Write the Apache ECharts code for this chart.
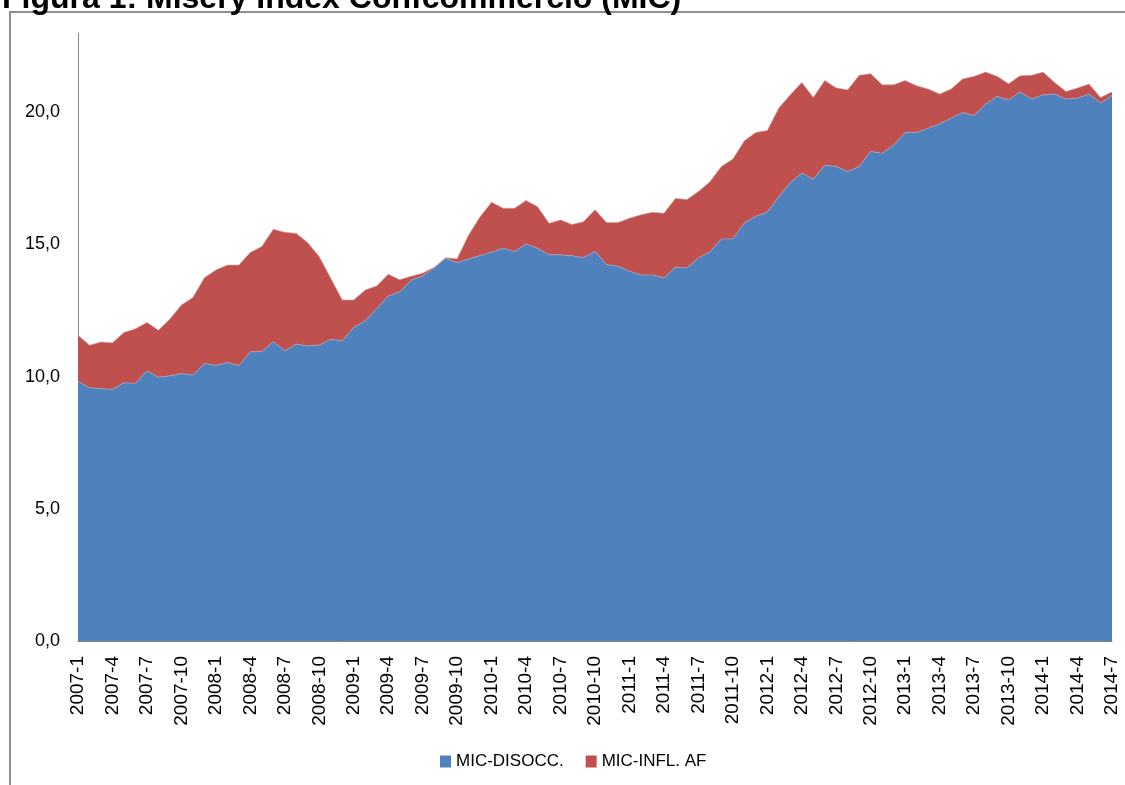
<!DOCTYPE html>
<html>
<head>
<meta charset="utf-8">
<script src="https://cdn.jsdelivr.net/npm/echarts@6/dist/echarts.min.js"></script>
<style>
html,body{margin:0;padding:0;background:#fff;}
#chart{width:1125px;height:785px;}
</style>
</head>
<body>
<div id="chart"></div>
<script>
const categories = [
"2007-1","2007-2","2007-3","2007-4","2007-5","2007-6","2007-7","2007-8","2007-9","2007-10","2007-11","2007-12",
"2008-1","2008-2","2008-3","2008-4","2008-5","2008-6","2008-7","2008-8","2008-9","2008-10","2008-11","2008-12",
"2009-1","2009-2","2009-3","2009-4","2009-5","2009-6","2009-7","2009-8","2009-9","2009-10","2009-11","2009-12",
"2010-1","2010-2","2010-3","2010-4","2010-5","2010-6","2010-7","2010-8","2010-9","2010-10","2010-11","2010-12",
"2011-1","2011-2","2011-3","2011-4","2011-5","2011-6","2011-7","2011-8","2011-9","2011-10","2011-11","2011-12",
"2012-1","2012-2","2012-3","2012-4","2012-5","2012-6","2012-7","2012-8","2012-9","2012-10","2012-11","2012-12",
"2013-1","2013-2","2013-3","2013-4","2013-5","2013-6","2013-7","2013-8","2013-9","2013-10","2013-11","2013-12",
"2014-1","2014-2","2014-3","2014-4","2014-5","2014-6","2014-7"
];

const micDisocc = [
9.83,9.58,9.55,9.51,9.77,9.75,10.22,9.98,10.03,10.12,10.06,10.50,
10.42,10.54,10.42,10.94,10.95,11.32,10.98,11.23,11.16,11.20,11.41,11.36,
11.86,12.11,12.58,13.05,13.21,13.65,13.81,14.11,14.48,14.31,14.45,14.58,
14.71,14.86,14.73,15.02,14.86,14.61,14.61,14.57,14.50,14.74,14.24,14.18,
13.99,13.85,13.85,13.74,14.14,14.11,14.49,14.72,15.21,15.21,15.81,16.07,
16.23,16.81,17.34,17.70,17.47,18.00,17.95,17.76,17.95,18.52,18.45,18.76,
19.24,19.24,19.40,19.56,19.78,19.99,19.88,20.31,20.60,20.47,20.77,20.50,
20.66,20.69,20.50,20.54,20.69,20.35,20.64
];

const micInflAf = [
1.74,1.61,1.76,1.77,1.90,2.06,1.83,1.78,2.15,2.59,2.93,3.24,
3.61,3.68,3.80,3.76,3.97,4.26,4.48,4.19,3.91,3.34,2.31,1.54,
1.04,1.17,0.85,0.82,0.46,0.15,0.10,0.03,0.02,0.15,0.91,1.47,
1.89,1.51,1.64,1.64,1.57,1.19,1.32,1.19,1.36,1.57,1.59,1.65,
2.00,2.27,2.37,2.44,2.60,2.59,2.51,2.65,2.74,3.02,3.11,3.17,
3.08,3.35,3.32,3.43,3.09,3.20,2.97,3.09,3.45,2.94,2.59,2.28,
1.96,1.76,1.48,1.13,1.10,1.27,1.48,1.21,0.76,0.61,0.61,0.90,
0.86,0.44,0.29,0.38,0.38,0.21,0.13
];

const seriesNames = ["MIC-DISOCC.", "MIC-INFL. AF"];
const titleText = "Figura 1: Misery Index Confcommercio (MIC)";

const chart = echarts.init(document.getElementById('chart'), null, {renderer:'canvas'});
const option = {
  animation: false,
  backgroundColor: '#ffffff',
  graphic: [
    {
      type: 'rect', z: -1, silent: true,
      shape: {x: 10, y: 12, width: 1300, height: 900},
      style: {fill: '#ffffff', stroke: '#8e8e8e', lineWidth: 2}
    },
    {
      type: 'text', left: 2, top: -17, silent: true,
      style: {text: titleText, fill: '#000', font: 'bold 32px "Liberation Sans", Arial, sans-serif'}
    }
  ],
  grid: {left: 78, right: 13, top: 33, bottom: 144, containLabel: false},
  legend: {
    left: 440, top: 753, padding: 0,
    itemWidth: 11, itemHeight: 12, itemGap: 22, icon: 'rect',
    textStyle: {fontFamily: '"Liberation Sans", Arial, sans-serif', fontSize: 17, color: '#000'},
    data: seriesNames
  },
  xAxis: {
    type: 'category',
    boundaryGap: false,
    data: categories,
    axisLine: {lineStyle: {color: '#868686', width: 1}},
    axisTick: {show: false},
    axisLabel: {
      interval: 2, rotate: 90, margin: 15, color: '#000',
      fontFamily: '"Liberation Sans", Arial, sans-serif', fontSize: 19
    },
    splitLine: {show: false}
  },
  yAxis: {
    type: 'value',
    min: 0, max: 23, interval: 5,
    axisLine: {show: true, lineStyle: {color: '#868686', width: 1}},
    axisTick: {show: false},
    splitLine: {show: false},
    axisLabel: {
      showMaxLabel: false, margin: 18, color: '#000',
      fontFamily: '"Liberation Sans", Arial, sans-serif', fontSize: 18,
      formatter: v => v.toFixed(1).replace('.', ',')
    }
  },
  series: [
    {
      name: seriesNames[0], type: 'line', stack: 'tot', data: micDisocc,
      showSymbol: false, symbol: 'none',
      lineStyle: {width: 0.6, color: '#9fb6d6'},
      itemStyle: {color: '#4F81BD'},
      areaStyle: {color: '#4F81BD', opacity: 1}
    },
    {
      name: seriesNames[1], type: 'line', stack: 'tot', data: micInflAf,
      showSymbol: false, symbol: 'none',
      lineStyle: {width: 0.6, color: '#d99a98'},
      itemStyle: {color: '#C0504D'},
      areaStyle: {color: '#C0504D', opacity: 1}
    }
  ]
};
chart.setOption(option);
</script>
</body>
</html>
